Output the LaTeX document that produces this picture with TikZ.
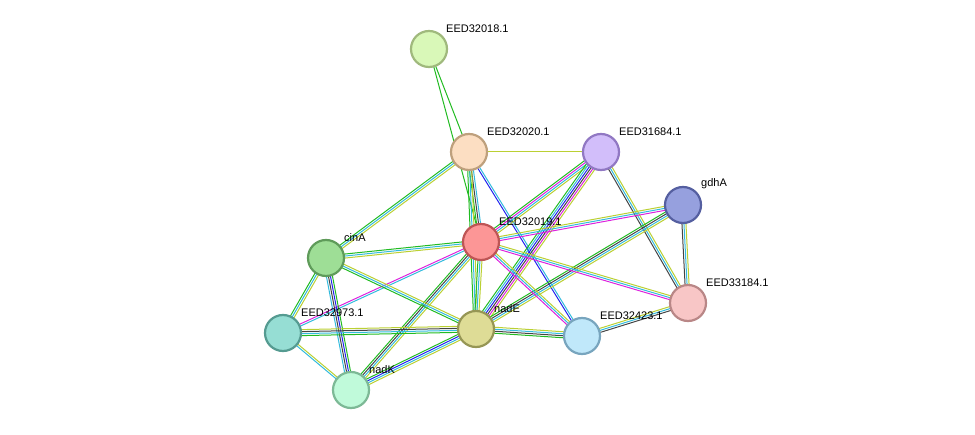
\documentclass[tikz,border=0pt]{standalone}
\usepackage{fontspec}
\setmainfont{Liberation Sans}
\usetikzlibrary{calc}
\definecolor{tg}{HTML}{22BB22}
\definecolor{tb}{HTML}{2222EE}
\definecolor{tc}{HTML}{33BBDD}
\definecolor{tm}{HTML}{DD22DD}
\definecolor{ty}{HTML}{BBD033}
\definecolor{tk}{HTML}{444444}
\newcommand{\myedge}[3]{%
  \foreach \c [count=\i] in {#3} {\xdef\nn{\i}}%
  \foreach \c [count=\i] in {#3} {%
    \pgfmathsetmacro{\off}{(\i-(\nn+1)/2)*2.0}%
    \draw[\c, line width=1pt] ($(#1)!\off pt!90:(#2)$) -- ($(#2)!\off pt!-90:(#1)$);}}
\begin{document}
\begin{tikzpicture}[x=1pt,y=-1pt,
  prot/.style={circle, minimum size=36pt, inner sep=0pt, line width=2.2pt},
  lab/.style={font=\fontsize{11}{11}\selectfont, anchor=south west, inner sep=1pt}]
\useasboundingbox (0,0) rectangle (975,435);
\coordinate (a) at (429,49);
\coordinate (b) at (469,152);
\coordinate (c) at (601,152);
\coordinate (d) at (683,205);
\coordinate (e) at (481,242);
\coordinate (f) at (326,258);
\coordinate (g) at (688,303);
\coordinate (h) at (283,333);
\coordinate (i) at (476,329);
\coordinate (j) at (582,336);
\coordinate (k) at (351,390);
\myedge{a}{b}{tg}
\myedge{a}{e}{tg}
\myedge{b}{c}{ty}
\myedge{b}{e}{tg,tk,tc}
\myedge{b}{i}{tg,tc,ty}
\myedge{b}{j}{tb,tc}
\myedge{b}{f}{tg,tc,ty}
\myedge{c}{e}{tg,tm,tc,ty}
\myedge{c}{i}{tg,tc,tb,tk,tm,ty}
\myedge{c}{g}{tk,tc,ty}
\myedge{d}{e}{ty,tc,tm}
\myedge{d}{i}{tg,tk,tc,ty}
\myedge{d}{g}{tk,tc,ty}
\myedge{e}{f}{tg,tc,ty}
\myedge{e}{g}{tm,tc,ty}
\myedge{e}{j}{tm,tc,ty}
\myedge{e}{i}{tg,tc,ty}
\myedge{e}{h}{tm,tc}
\myedge{e}{k}{tg,tk,tc,ty}
\myedge{f}{h}{tg,tc,ty}
\myedge{f}{k}{tc,tk,tb,tg}
\myedge{f}{i}{tg,tc,ty}
\myedge{h}{i}{tg,tc,tk,ty}
\myedge{h}{k}{tc,ty}
\myedge{i}{j}{tg,tk,tc,ty}
\myedge{i}{k}{tg,tb,tc,ty}
\myedge{j}{g}{tk,tc,ty}
\node[prot, fill={rgb,255:red,217;green,248;blue,184}, draw={rgb,255:red,160;green,185;blue,125}] (A) at (a) {};
\node[prot, fill={rgb,255:red,252;green,222;blue,194}, draw={rgb,255:red,190;green,160;blue,125}] (B) at (b) {};
\node[prot, fill={rgb,255:red,210;green,190;blue,250}, draw={rgb,255:red,145;green,120;blue,195}] (C) at (c) {};
\node[prot, fill={rgb,255:red,150;green,160;blue,222}, draw={rgb,255:red,85;green,95;blue,160}] (D) at (d) {};
\node[prot, fill={rgb,255:red,252;green,150;blue,150}, draw={rgb,255:red,190;green,85;blue,85}] (E) at (e) {};
\node[prot, fill={rgb,255:red,158;green,222;blue,150}, draw={rgb,255:red,95;green,155;blue,90}] (F) at (f) {};
\node[prot, fill={rgb,255:red,248;green,198;blue,198}, draw={rgb,255:red,185;green,135;blue,135}] (G) at (g) {};
\node[prot, fill={rgb,255:red,150;green,222;blue,212}, draw={rgb,255:red,85;green,155;blue,145}] (H) at (h) {};
\node[prot, fill={rgb,255:red,222;green,220;blue,150}, draw={rgb,255:red,150;green,150;blue,85}] (I) at (i) {};
\node[prot, fill={rgb,255:red,192;green,232;blue,250}, draw={rgb,255:red,120;green,165;blue,190}] (J) at (j) {};
\node[prot, fill={rgb,255:red,192;green,250;blue,218}, draw={rgb,255:red,125;green,185;blue,150}] (K) at (k) {};
\node[lab] at (445,34) {EED32018.1};
\node[lab] at (486,137) {EED32020.1};
\node[lab] at (618,137) {EED31684.1};
\node[lab] at (700,190) {gdhA};
\node[lab] at (498,227) {EED32019.1};
\node[lab] at (343,243) {cinA};
\node[lab] at (705,288) {EED33184.1};
\node[lab] at (300,318) {EED32973.1};
\node[lab] at (493,314) {nadE};
\node[lab] at (599,321) {EED32423.1};
\node[lab] at (368,375) {nadK};
\end{tikzpicture}
\end{document}
